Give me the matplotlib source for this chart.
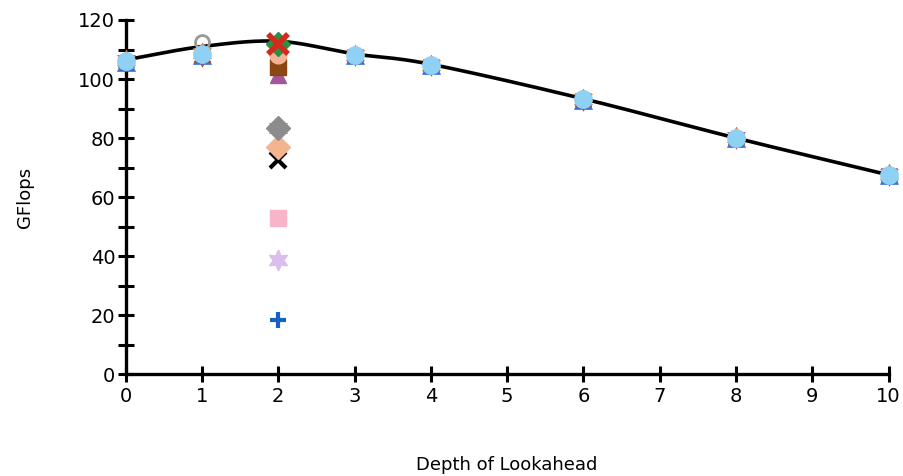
import numpy as np
import matplotlib
matplotlib.use("Agg")
import matplotlib.pyplot as plt
from matplotlib.ticker import MultipleLocator

# depth of lookahead values
depth = [0, 1, 2, 3, 4, 6, 8, 10]

# smoothed trend line
trend = [106.5, 111.0, 112.8, 108.5, 105.0, 93.3, 80.0, 67.5]

# series measured at every depth (drawn in this order, last on top)
full_series = [
    ("^", "#3b6fd6", 13, [105.8, 108.3, 112.0, 108.0, 104.7, 93.0, 80.0, 67.5]),
    ((6, 1, 0), "#f07a1f", 15, [106.3, 108.8, 83.5, 108.2, 104.9, 93.3, 80.2, 67.7]),
    ((6, 1, 0), "#99501c", 14, [105.6, 107.6, 104.0, 107.7, 104.4, 92.7, 79.7, 67.2]),
    ("v", "#a05aa0", 11, [105.3, 107.3, 101.5, 107.5, 104.2, 92.5, 79.5, 67.0]),
    ("o", "#999999", 10, [106.2, 112.5, 108.0, 108.0, 104.8, 93.0, 80.0, 67.5]),
    ("o", "#8fd1f4", 13, [106.2, 108.6, 112.0, 108.1, 104.8, 93.1, 80.1, 67.6]),
]

# series that only have a value at depth 2
depth2_markers = ["+", "*6", "s", "x", "D", "D", "^", "s", "o", "D", "x"]
depth2_colors = ["#1561c4", "#dcbdf0", "#f8b4c8", "#000000", "#f4b48e", "#8c8c8c",
                 "#a2569c", "#8c4613", "#f5b395", "#2c8f46", "#d42a1c"]
depth2_values = [18.5, 38.6, 52.9, 72.7, 77.0, 83.5, 101.5, 104.0, 108.0, 112.0, 112.0]


def catmull_rom(xs, ys, n=30):
    xs = np.asarray(xs, float)
    ys = np.asarray(ys, float)
    px = np.concatenate([[2 * xs[0] - xs[1]], xs, [2 * xs[-1] - xs[-2]]])
    py = np.concatenate([[2 * ys[0] - ys[1]], ys, [2 * ys[-1] - ys[-2]]])
    outx, outy = [], []
    t = np.linspace(0, 1, n)
    for i in range(1, len(px) - 2):
        for p, out in ((px, outx), (py, outy)):
            p0, p1, p2, p3 = p[i - 1], p[i], p[i + 1], p[i + 2]
            out.extend(0.5 * ((2 * p1) + (-p0 + p2) * t
                              + (2 * p0 - 5 * p1 + 4 * p2 - p3) * t ** 2
                              + (-p0 + 3 * p1 - 3 * p2 + p3) * t ** 3))
    return np.array(outx), np.array(outy)


plt.rcParams['font.family'] = ['DejaVu Sans']
fig = plt.figure(figsize=(9.04, 4.76), dpi=100)
ax = fig.add_axes([0.139, 0.214, 0.844, 0.744])

sx, sy = catmull_rom(depth, trend)
ax.plot(sx, sy, color="black", lw=2.6, zorder=2, clip_on=False)

for mk, col, ms, vals in full_series:
    hollow = col == "#999999"
    ax.plot(depth, vals, ls="none", marker=mk, ms=ms,
            mfc="none" if hollow else col, mec=col, mew=2 if hollow else 0.5,
            zorder=3, clip_on=False)

for mk, col, v in zip(depth2_markers, depth2_colors, depth2_values):
    if mk == "*6":
        ax.plot([2], [v], ls="none", marker=(6, 1, 0), ms=15, color=col, zorder=4)
    elif mk in ("+", "x"):
        ax.plot([2], [v], ls="none", marker=mk, ms=11 if col != "#d42a1c" else 15,
                mew=3 if col != "#d42a1c" else 4, color=col, zorder=4)
    else:
        ax.plot([2], [v], ls="none", marker=mk, ms=12, color=col, mec=col, zorder=4)

ax.set_xlim(0, 10)
ax.set_ylim(0, 120)
ax.xaxis.set_major_locator(MultipleLocator(1))
ax.yaxis.set_major_locator(MultipleLocator(20))
ax.yaxis.set_minor_locator(MultipleLocator(10))
for s in ["top", "right"]:
    ax.spines[s].set_visible(False)
for s in ["left", "bottom"]:
    ax.spines[s].set_linewidth(2.4)
ax.tick_params(which="both", direction="inout", length=11, width=2.2, labelsize=14, pad=2)
ax.tick_params(axis="x", pad=4)

ax.set_xlabel("Depth of Lookahead", fontsize=13, labelpad=36)
ax.set_ylabel("GFlops", fontsize=13, labelpad=32)

fig.savefig("out.png", dpi=100)
